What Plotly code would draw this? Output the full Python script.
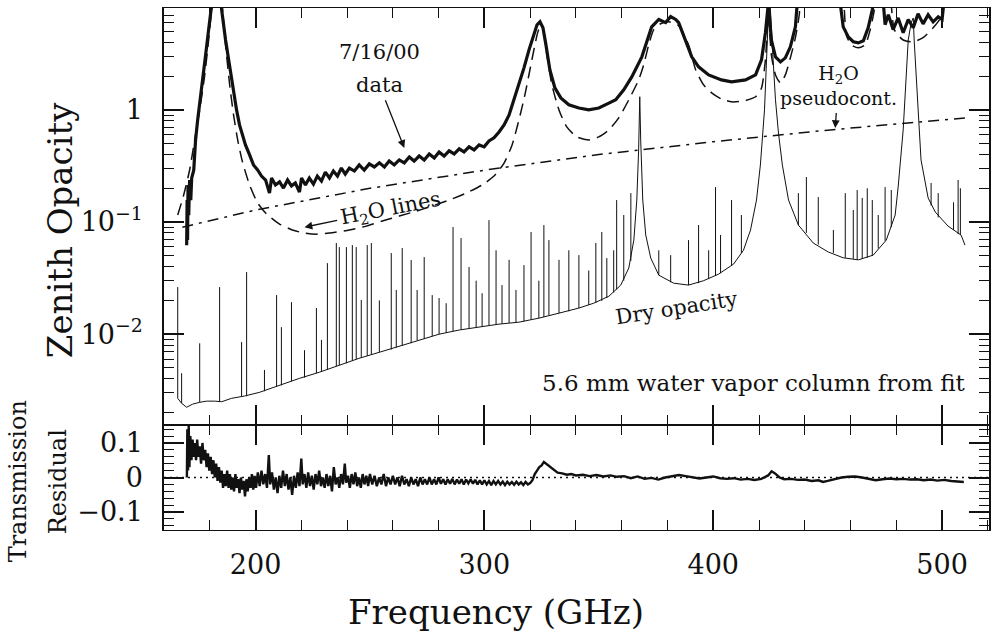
import numpy as np
import plotly.graph_objects as go

# Measured zenith opacity, 7/16/00 (GHz, opacity); points above the frame are saturated
data_freq = [169.9, 170.1, 170.3, 170.5, 170.8, 171.2, 171.7, 172.1, 173.0, 173.8, 174.7, 175.6,
             176.9, 178.2, 179.5, 180.8, 181.7, 184.3, 185.2, 186.9, 188.7, 190.4, 191.7, 193.0,
             194.3, 195.6, 197.4, 199.1, 200.9, 202.6, 204.4, 206.1, 207.0, 208.7, 210.5, 212.2,
             214.0, 215.7, 217.4, 219.2, 220.1, 221.8, 223.5, 225.3, 227.0, 228.8, 230.5, 232.3,
             234.0, 235.8, 237.5, 239.2, 241.0, 243.2, 245.3, 247.5, 249.7, 251.9, 254.1, 256.3,
             258.4, 260.6, 262.8, 265.0, 267.2, 269.3, 271.5, 273.7, 275.9, 278.1, 280.2, 282.4,
             284.6, 286.8, 289.0, 291.1, 293.3, 295.5, 297.7, 299.9, 302.0, 304.2, 306.4, 308.6,
             310.8, 312.9, 315.1, 317.3, 319.5, 321.7, 323.0, 324.3, 325.6, 326.9, 328.6, 330.8,
             333.4, 336.9, 341.3, 345.6, 350.0, 354.4, 357.4, 360.9, 364.4, 368.8, 373.1, 376.2,
             379.2, 381.4, 383.6, 384.9, 387.9, 390.6, 393.6, 398.0, 403.6, 408.0, 414.1, 418.5,
             421.1, 422.8, 424.1, 425.4, 427.2, 429.4, 431.5, 433.7, 435.9, 437.2, 454.7, 456.8,
             459.0, 461.2, 463.4, 465.6, 467.7, 469.5, 470.8, 473.8, 475.1, 476.5, 478.6, 480.8,
             483.0, 485.2, 487.4, 489.5, 491.7, 493.9, 496.1, 498.3, 500.0, 501.4, 510.5]
data_opac = [0.062, 0.157, 0.069, 0.214, 0.115, 0.237, 0.157, 0.247, 0.29, 0.54, 0.81, 1.11,
             1.85, 3.1, 5.2, 7.8, 12.0, 12.0, 7.8, 4.2, 2.42, 1.36, 1.0, 0.735,
             0.598, 0.487, 0.397, 0.323, 0.291, 0.257, 0.237, 0.181, 0.247, 0.214, 0.228, 0.201,
             0.237, 0.21, 0.223, 0.185, 0.247, 0.214, 0.247, 0.218, 0.257, 0.232, 0.279, 0.247,
             0.285, 0.257, 0.303, 0.268, 0.303, 0.285, 0.323, 0.291, 0.33, 0.31, 0.337, 0.31,
             0.35, 0.323, 0.358, 0.337, 0.38, 0.35, 0.388, 0.358, 0.405, 0.373, 0.422, 0.388,
             0.431, 0.405, 0.449, 0.422, 0.468, 0.44, 0.487, 0.468, 0.529, 0.563, 0.636, 0.735,
             0.902, 1.23, 1.67, 2.37, 3.43, 4.67, 5.74, 6.1, 5.4, 3.8, 2.28, 1.57,
             1.28, 1.11, 1.04, 1.0, 1.04, 1.15, 1.23, 1.51, 1.97, 2.97, 5.5, 6.4,
             6.0, 6.8, 6.4, 6.0, 4.2, 2.97, 2.42, 2.05, 1.85, 1.78, 1.85, 2.05,
             2.8, 4.87, 9.0, 4.2, 2.97, 2.68, 2.91, 3.65, 5.5, 12.0, 12.0, 5.5,
             4.48, 4.05, 3.96, 4.14, 5.4, 7.8, 12.0, 12.0, 5.75, 7.05, 5.2, 6.6,
             4.87, 6.4, 5.4, 7.2, 5.85, 7.05, 6.1, 6.75, 6.4, 12.0, 12.0]

# Model opacity of the H2O lines
h2o_freq = [166.0, 168.6, 171.2, 173.4, 175.6, 177.8, 179.5, 180.8, 182.1, 184.7, 185.6, 186.9,
            188.7, 190.4, 192.2, 194.3, 197.4, 200.9, 204.8, 210.5, 216.1, 221.4, 226.6, 232.3,
            241.0, 248.4, 255.4, 262.8, 270.2, 277.2, 284.6, 292.0, 299.0, 304.2, 308.6, 312.1,
            315.1, 317.7, 319.9, 322.1, 323.8, 325.6, 327.3, 329.5, 332.6, 336.0, 340.4, 345.6,
            350.0, 354.4, 358.7, 363.1, 367.4, 369.6, 371.8, 374.0, 377.0, 380.5, 384.9, 389.2,
            392.3, 395.8, 399.3, 403.6, 408.0, 413.2, 418.5, 421.1, 422.8, 424.1, 425.4, 427.2,
            429.4, 431.5, 433.7, 435.9, 437.6, 438.9, 455.5, 458.1, 460.3, 463.4, 466.4, 468.6,
            470.4, 471.7, 476.5, 479.1, 483.0, 487.4, 491.7, 496.1, 499.6, 501.8, 510.5]
h2o_opac = [0.1155, 0.174, 0.291, 0.54, 1.0, 2.05, 4.2, 7.8, 12.0, 12.0, 7.8, 3.8,
            1.67, 0.902, 0.54, 0.343, 0.214, 0.148, 0.118, 0.096, 0.085, 0.0797, 0.078, 0.0797,
            0.085, 0.092, 0.102, 0.113, 0.125, 0.139, 0.157, 0.181, 0.214, 0.257, 0.336, 0.487,
            0.814, 1.36, 2.28, 3.8, 5.2, 5.2, 3.1, 1.67, 1.0, 0.705, 0.574, 0.54,
            0.574, 0.663, 0.848, 1.23, 1.85, 2.52, 3.8, 5.2, 5.86, 6.1, 5.62, 3.8,
            2.28, 1.67, 1.42, 1.25, 1.18, 1.2, 1.31, 1.57, 2.8, 7.05, 3.1, 2.05,
            1.74, 2.05, 2.91, 4.4, 7.05, 12.0, 12.0, 4.67, 3.8, 3.58, 3.8, 5.2,
            7.8, 12.0, 12.0, 5.2, 4.2, 4.05, 4.4, 5.4, 6.75, 12.0, 12.0]

# H2O pseudo-continuum
cont_freq = [168.0, 200.0, 250.0, 300.0, 350.0, 400.0, 450.0, 510.5]
cont_opac = [0.090, 0.128, 0.200, 0.290, 0.400, 0.520, 0.660, 0.850]

# Dry-air opacity, smooth part including the O2 lines
dry_freq = [166.0, 167.7, 169.9, 172.5, 175.6, 178.6, 182.1, 185.2, 189.5, 195.2, 201.7, 210.5,
            219.2, 227.9, 236.6, 245.3, 254.1, 262.8, 271.5, 280.2, 289.0, 297.7, 306.4, 315.1,
            323.8, 332.6, 341.3, 347.8, 354.4, 359.6, 363.1, 365.3, 366.6, 367.4, 367.9, 368.3,
            369.2, 370.5, 372.7, 376.2, 382.7, 389.2, 395.8, 402.3, 408.9, 413.2, 416.3, 418.9,
            420.6, 422.4, 423.2, 424.1, 424.6, 425.0, 425.9, 427.2, 428.5, 430.2, 432.9, 437.2,
            443.7, 450.3, 456.8, 463.4, 469.9, 475.6, 479.5, 480.8, 483.0, 485.2, 486.5, 487.4,
            487.8, 488.7, 489.5, 490.8, 493.9, 497.0, 502.6, 508.3, 510.0]
dry_opac = [0.00268, 0.00242, 0.00223, 0.00238, 0.00247, 0.00253, 0.00253, 0.0025, 0.00268,
            0.00281, 0.00303, 0.0035, 0.00404, 0.00458, 0.00529, 0.0061, 0.0069, 0.00781,
            0.0089, 0.0100, 0.0109, 0.01155, 0.0123, 0.0128, 0.0139, 0.0154, 0.0171, 0.0189,
            0.0218, 0.0274, 0.0389, 0.069, 0.157, 0.44, 1.31, 0.54, 0.157, 0.0767, 0.0477,
            0.0336, 0.0285, 0.0274, 0.030, 0.0343, 0.0422, 0.056, 0.085, 0.157, 0.323, 1.0,
            2.8, 7.05, 9.0, 7.8, 3.43, 1.23, 0.623, 0.323, 0.157, 0.094, 0.065, 0.054, 0.048,
            0.046, 0.0507, 0.069, 0.1155, 0.205, 0.663, 4.2, 6.0, 6.6, 4.2, 1.85, 1.0, 0.358,
            0.164, 0.123, 0.092, 0.0765, 0.0623]

# Narrow dry-air (ozone) lines: centre, level at the foot, peak level
dry_line_freq = [166.0, 167.7, 175.6, 184.3, 193.9, 196.1, 203.9, 209.2, 211.3, 215.7, 221.4,
                 226.6, 228.8, 231.4, 235.3, 236.6, 239.7, 242.3, 244.0, 246.2, 248.8, 250.6,
                 254.1, 259.3, 261.5, 264.1, 268.0, 270.6, 273.7, 277.2, 280.2, 283.3, 286.3,
                 289.8, 293.3, 296.4, 299.0, 302.0, 305.1, 307.7, 310.8, 313.8, 317.3, 320.4,
                 323.8, 326.0, 328.2, 332.6, 336.9, 341.3, 345.6, 348.7, 351.3, 353.5, 356.5,
                 357.8, 360.9, 364.0, 376.2, 381.4, 389.2, 393.6, 398.0, 401.0, 403.2, 408.0,
                 412.3, 437.2, 440.7, 445.9, 452.5, 457.7, 461.2, 462.9, 465.1, 467.3, 469.5,
                 472.1, 475.1, 477.8, 495.2, 498.3, 505.0, 507.0, 508.0]
dry_line_base = [0.00268, 0.00242, 0.00247, 0.0025, 0.0028, 0.0028, 0.0031, 0.0034, 0.0035,
                 0.0038, 0.0041, 0.0045, 0.0046, 0.0048, 0.0052, 0.0053, 0.0055, 0.0058, 0.006,
                 0.0062, 0.0064, 0.0066, 0.0069, 0.0073, 0.0076, 0.0079, 0.0083, 0.0088, 0.0091,
                 0.0096, 0.0100, 0.0103, 0.0106, 0.0110, 0.0113, 0.0115, 0.0117, 0.0120, 0.0122,
                 0.0124, 0.0126, 0.0127, 0.0130, 0.0135, 0.0139, 0.0142, 0.0148, 0.0154, 0.0160,
                 0.0171, 0.0182, 0.0190, 0.0198, 0.0210, 0.0235, 0.025, 0.030, 0.045, 0.0336,
                 0.029, 0.0274, 0.0285, 0.031, 0.033, 0.035, 0.041, 0.053, 0.094, 0.080, 0.063,
                 0.053, 0.048, 0.047, 0.046, 0.047, 0.048, 0.050, 0.058, 0.068, 0.090, 0.140,
                 0.110, 0.085, 0.078, 0.077]
dry_line_peak = [0.0263, 0.00449, 0.0083, 0.0263, 0.0085, 0.0358, 0.0048, 0.0223, 0.01155,
                 0.0193, 0.0072, 0.0171, 0.0089, 0.043, 0.065, 0.0598, 0.0598, 0.0623, 0.0598,
                 0.0202, 0.0623, 0.065, 0.020, 0.0529, 0.0248, 0.0586, 0.0458, 0.0248, 0.0487,
                 0.0223, 0.021, 0.0189, 0.0902, 0.072, 0.0397, 0.030, 0.0232, 0.104, 0.056,
                 0.0274, 0.046, 0.0248, 0.0413, 0.0814, 0.030, 0.094, 0.069, 0.046, 0.056,
                 0.0507, 0.037, 0.065, 0.0814, 0.0477, 0.056, 0.157, 0.1155, 0.181, 0.056,
                 0.0507, 0.069, 0.094, 0.056, 0.205, 0.0767, 0.157, 0.1155, 0.181, 0.252, 0.167,
                 0.085, 0.181, 0.128, 0.193, 0.164, 0.200, 0.157, 0.1155, 0.205, 0.193, 0.223,
                 0.181, 0.150, 0.237, 0.200]

# Residual of the fit
resid_freq = [170.0, 170.2, 170.5, 170.8, 171.1, 171.5, 172.0, 172.5, 173.0, 173.5, 174.0, 174.5,
              175.0, 175.6, 176.2, 176.8, 177.4, 178.0, 178.6, 179.2, 179.8, 180.4, 181.0, 181.6,
              182.2, 182.8, 183.4, 184.0, 184.6, 185.2, 185.8, 186.4, 187.0, 187.6, 188.2, 188.8,
              189.4, 190.0, 190.6, 191.2, 191.8, 192.4, 193.0, 193.6, 194.2, 194.8, 195.4, 196.0,
              196.6, 197.2, 197.8, 198.4, 199.0, 199.6, 200.2, 201.0, 201.8, 202.6, 203.4, 204.2,
              205.0, 205.8, 206.4, 207.2, 208.0, 208.8, 209.6, 210.4, 211.2, 212.0, 212.8, 213.6,
              214.4, 215.2, 216.0, 216.8, 217.6, 218.4, 219.2, 220.0, 220.6, 221.4, 222.2, 223.0,
              223.8, 224.6, 225.4, 226.2, 227.0, 227.8, 228.6, 229.4, 230.2, 231.0, 231.8, 232.6,
              233.4, 234.2, 235.0, 235.8, 236.6, 237.4, 238.2, 239.0, 239.6, 240.4, 241.2, 242.0,
              242.8, 243.6, 244.4, 245.2, 246.0, 246.8, 247.6, 248.4, 249.2, 250.0, 251.0, 252.0,
              253.0, 254.0, 255.0, 256.0, 257.0, 258.0, 259.0, 260.0, 261.0, 262.0, 263.0, 264.0,
              265.0, 266.0, 267.0, 268.0, 269.0, 270.0, 271.0, 272.0, 273.0, 274.0, 275.0, 276.0,
              277.0, 278.0, 279.0, 280.0, 281.0, 282.0, 283.0, 284.0, 285.0, 286.0, 287.0, 288.0,
              289.0, 290.0, 291.0, 292.0, 293.0, 294.0, 295.0, 296.0, 297.0, 298.0, 299.0, 300.0,
              301.0, 302.0, 303.0, 304.0, 305.0, 306.0, 307.0, 308.0, 309.0, 310.0, 311.0, 312.0,
              313.0, 314.0, 315.0, 316.0, 317.0, 318.0, 319.0, 320.0, 321.0, 322.0, 323.0, 324.0,
              325.0, 326.0, 327.0, 328.0, 329.0, 330.0, 331.0, 332.0, 334.0, 336.0, 338.0, 340.0,
              343.0, 346.0, 349.0, 352.0, 355.0, 358.0, 361.0, 364.0, 367.0, 370.0, 373.0, 376.0,
              379.0, 382.0, 385.0, 388.0, 391.0, 394.0, 397.0, 400.0, 403.0, 406.0, 409.0, 412.0,
              415.0, 418.0, 421.0, 424.0, 425.5, 427.0, 429.0, 431.0, 434.0, 437.0, 440.0, 443.0,
              446.0, 448.0, 450.0, 453.0, 456.0, 459.0, 462.0, 465.0, 468.0, 471.0, 474.0, 477.0,
              480.0, 483.0, 486.0, 489.0, 492.0, 495.0, 498.0, 501.0, 504.0, 507.0, 509.5]
resid_val = [0.0, 0.14, 0.02, 0.15, 0.03, 0.12, 0.05, 0.11, 0.06, 0.10, 0.05, 0.11,
             0.06, 0.09, 0.04, 0.10, 0.05, 0.08, 0.03, 0.07, 0.02, 0.06, 0.01, 0.05,
             0.0, 0.04, -0.01, 0.03, -0.015, 0.02, -0.03, 0.01, -0.025, 0.02, -0.03, 0.01,
             -0.035, 0.0, -0.04, 0.01, -0.03, -0.005, -0.045, 0.0, -0.035, -0.01, -0.055, -0.005,
             -0.04, 0.0, -0.03, 0.01, -0.035, 0.005, -0.03, 0.015, -0.025, 0.02, -0.02, 0.01,
             -0.03, 0.065, -0.02, 0.015, -0.035, 0.0, -0.045, 0.005, -0.03, 0.02, -0.025, 0.01,
             -0.035, 0.0, -0.05, 0.005, -0.03, 0.015, -0.025, 0.055, -0.02, 0.01, -0.03, 0.015,
             -0.025, 0.005, -0.035, 0.01, -0.02, 0.02, -0.025, 0.0, -0.03, 0.01, -0.025, 0.005,
             -0.04, 0.03, -0.02, 0.0, -0.03, 0.01, -0.02, 0.04, -0.015, 0.005, -0.03, 0.01,
             -0.02, 0.015, -0.025, 0.0, -0.03, 0.01, -0.02, 0.005, -0.025, 0.01, -0.02, 0.005,
             -0.025, 0.0, -0.02, 0.01, -0.025, 0.0, -0.02, 0.005, -0.02, 0.0, -0.025, 0.005,
             -0.02, -0.005, -0.025, 0.0, -0.02, -0.005, -0.025, 0.0, -0.02, -0.005, -0.02, 0.0,
             -0.02, -0.005, -0.02, 0.0, -0.018, -0.005, -0.02, -0.005, -0.018, -0.004, -0.02, -0.006,
             -0.018, -0.005, -0.02, -0.006, -0.017, -0.005, -0.018, -0.007, -0.02, -0.008, -0.02, -0.008,
             -0.02, -0.01, -0.022, -0.01, -0.02, -0.01, -0.02, -0.012, -0.022, -0.012, -0.02, -0.013,
             -0.021, -0.012, -0.02, -0.014, -0.022, -0.013, -0.02, -0.016, -0.008, 0.01, 0.02, 0.03,
             0.035, 0.045, 0.04, 0.035, 0.028, 0.025, 0.018, 0.014, 0.012, 0.008, 0.010, 0.006,
             0.008, 0.004, 0.007, 0.003, 0.006, 0.002, 0.004, -0.002, 0.003, -0.004, -0.001, -0.006,
             0.0, 0.004, 0.007, 0.004, 0.0, -0.003, 0.0, 0.003, -0.002, -0.004, -0.002, -0.006,
             -0.004, -0.007, -0.004, 0.006, 0.018, 0.012, 0.0, -0.005, -0.004, -0.007, -0.006, -0.01,
             -0.008, -0.013, -0.01, -0.004, 0.0, 0.002, 0.003, 0.0, -0.004, -0.008, -0.005, -0.003,
             -0.005, -0.004, -0.006, -0.005, -0.008, -0.006, -0.009, -0.007, -0.01, -0.012, -0.013]

SERIF = "DejaVu Serif"
INK = "#111111"

# Narrow lines drawn as vertical strokes from foot to peak
line_x, line_y = [], []
for f, b, p in zip(dry_line_freq, dry_line_base, dry_line_peak):
    line_x += [f, f, None]
    line_y += [b, p, None]

fig = go.Figure()

fig.add_trace(go.Scatter(x=dry_freq, y=dry_opac, xaxis="x2", yaxis="y", mode="lines",
                         line=dict(color=INK, width=1.0), hoverinfo="skip"))
fig.add_trace(go.Scatter(x=line_x, y=line_y, xaxis="x2", yaxis="y", mode="lines",
                         line=dict(color=INK, width=1.0), hoverinfo="skip"))
fig.add_trace(go.Scatter(x=cont_freq, y=cont_opac, xaxis="x2", yaxis="y", mode="lines",
                         line=dict(color=INK, width=1.5, dash="11px,6px,3px,6px"),
                         hoverinfo="skip"))
fig.add_trace(go.Scatter(x=h2o_freq, y=h2o_opac, xaxis="x2", yaxis="y", mode="lines",
                         line=dict(color=INK, width=1.5, dash="12px,7px", shape="spline",
                                   smoothing=0.6), hoverinfo="skip"))
fig.add_trace(go.Scatter(x=data_freq, y=data_opac, xaxis="x2", yaxis="y", mode="lines",
                         line=dict(color=INK, width=3.2), hoverinfo="skip"))
fig.add_trace(go.Scatter(x=resid_freq, y=resid_val, xaxis="x", yaxis="y2", mode="lines",
                         line=dict(color=INK, width=2.4), hoverinfo="skip"))

tickfont = dict(family=SERIF, size=27, color=INK)
common_x = dict(range=[160, 520.5], ticks="inside", ticklen=20, tickwidth=1.5, tickcolor=INK,
                tick0=0, dtick=100, showline=True, linewidth=1.2, linecolor=INK,
                mirror="allticks", showgrid=False, zeroline=False,
                minor=dict(ticks="inside", ticklen=10, tickwidth=1.2, tickcolor=INK,
                           tickmode="linear", tick0=0, dtick=20, showgrid=False))

log_minor = [m * 10.0 ** e for e in (-3, -2, -1, 0) for m in range(2, 10)]
log_minor = [v for v in log_minor if 0.0015 < v < 8.2]

PANEL_SPLIT = 105 / 522

fig.update_layout(
    width=996, height=640,
    margin=dict(l=164, r=5, t=8, b=110),
    paper_bgcolor="white", plot_bgcolor="white",
    showlegend=False,
    xaxis=dict(common_x, domain=[0, 1], anchor="y2", tickfont=tickfont,
               ticklabelstandoff=10),
    xaxis2=dict(common_x, domain=[0, 1], anchor="y", matches="x", showticklabels=False),
    yaxis=dict(domain=[PANEL_SPLIT, 1], anchor="x2", type="log",
               range=[np.log10(0.00155), np.log10(8.1)],
               tickmode="array", tickvals=[0.01, 0.1, 1],
               ticktext=["10<sup>\u22122</sup>", "10<sup>\u22121</sup>", "1"],
               ticks="inside", ticklen=20, tickwidth=1.5, tickcolor=INK,
               showline=True, linewidth=1.5, linecolor=INK, mirror="allticks",
               showgrid=False, zeroline=False, tickfont=tickfont, ticklabelstandoff=14,
               minor=dict(ticks="inside", ticklen=10, tickwidth=1.2, tickcolor=INK,
                          tickmode="array", tickvals=log_minor, showgrid=False)),
    yaxis2=dict(domain=[0, PANEL_SPLIT], anchor="x", range=[-0.152, 0.152],
                tickmode="array", tickvals=[-0.1, 0, 0.1],
                ticktext=["\u22120.1", "0", "0.1"],
                ticks="inside", ticklen=20, tickwidth=1.5, tickcolor=INK,
                showline=True, linewidth=1.5, linecolor=INK, mirror="allticks",
                showgrid=False, zeroline=False, tickfont=tickfont, ticklabelstandoff=14,
                minor=dict(ticks="inside", ticklen=10, tickwidth=1.2, tickcolor=INK,
                           tickmode="linear", tick0=0, dtick=0.02, showgrid=False)),
)

# Zero level of the residual panel
fig.add_shape(type="line", xref="x domain", x0=0, x1=1, yref="y2", y0=0, y1=0,
              line=dict(color=INK, width=1.3, dash="2px,4px"), layer="below")

ann_font = dict(family=SERIF, size=21, color=INK)
arrow_style = dict(showarrow=True, arrowhead=2, arrowsize=1.2, arrowwidth=1.3,
                   arrowcolor=INK, standoff=0, startstandoff=2)


def lg(v):
    return float(np.log10(v))


annotations = [
    dict(text="7/16/00", x=254.1, y=lg(3.3), xref="x2", yref="y", showarrow=False,
         font=ann_font, xanchor="center", yanchor="middle"),
    # "data" label with its arrow pointing at the measured curve
    dict(text="data", x=265.0, y=lg(0.458), xref="x2", yref="y", ax=-25, ay=-63,
         font=ann_font, **arrow_style),
    # "H2O lines" label with its arrow pointing at the dashed model
    dict(text="H<sub>2</sub>O lines", x=221.4, y=lg(0.090), xref="x2", yref="y",
         ax=86, ay=-18, font=ann_font, textangle=-11, **arrow_style),
    dict(text="Dry opacity", x=384.0, y=lg(0.0171), xref="x2", yref="y", showarrow=False,
         font=ann_font, textangle=-9, xanchor="center", yanchor="middle"),
    # pseudo-continuum label with its arrow down to the dash-dot curve
    dict(text="H<sub>2</sub>O<br>pseudocont.", x=453.3, y=lg(0.69), xref="x2", yref="y",
         ax=3, ay=-42, font=dict(family=SERIF, size=19, color=INK), **arrow_style),
    dict(text="5.6 mm water vapor column from fit", x=511.3, y=lg(0.00365), xref="x2",
         yref="y", xanchor="right", yanchor="middle", showarrow=False,
         font=dict(family=SERIF, size=23, color=INK)),
    dict(text="Zenith Opacity", x=-0.1258, y=0.5747, xref="paper", yref="paper",
         xanchor="center", yanchor="middle",
         textangle=-90, showarrow=False, font=dict(family=SERIF, size=34, color=INK)),
    dict(text="Frequency (GHz)", x=0.4027, y=-0.1571, xref="paper", yref="paper",
         xanchor="center", yanchor="middle",
         showarrow=False, font=dict(family=SERIF, size=34, color=INK)),
    dict(text="Transmission", x=-0.1765, y=0.0939, xref="paper", yref="paper",
         xanchor="center", yanchor="middle",
         textangle=-90, showarrow=False, font=dict(family=SERIF, size=24, color=INK)),
    dict(text="Residual", x=-0.1282, y=0.0920, xref="paper", yref="paper",
         xanchor="center", yanchor="middle",
         textangle=-90, showarrow=False, font=dict(family=SERIF, size=24, color=INK)),
]
fig.update_layout(annotations=annotations)

fig.write_html("out.html")
